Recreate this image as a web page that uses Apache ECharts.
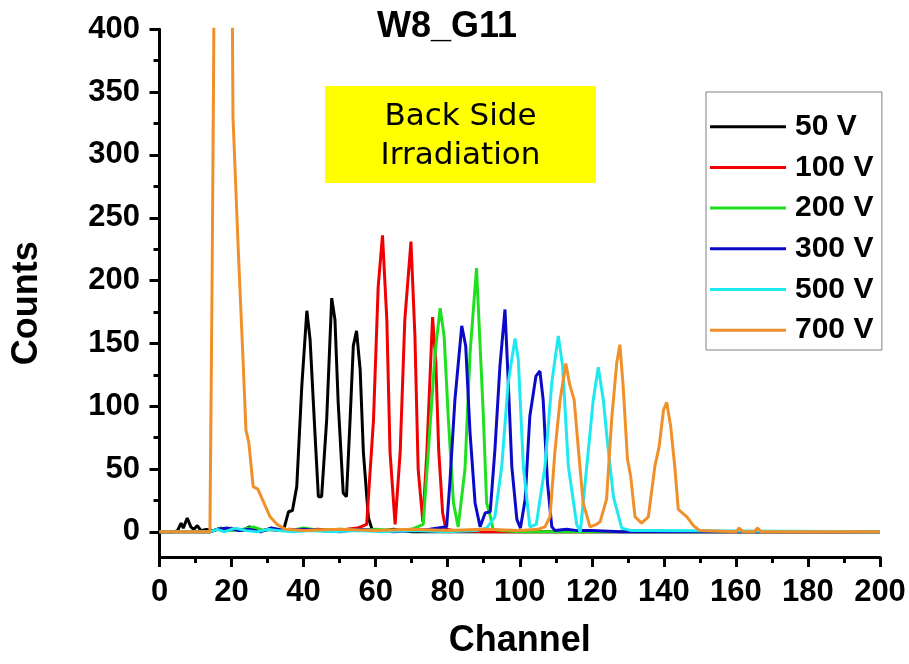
<!DOCTYPE html>
<html>
<head>
<meta charset="utf-8">
<script src="https://cdn.jsdelivr.net/npm/echarts@6/dist/echarts.min.js"></script>
<style>
html,body{margin:0;padding:0;background:#fff;}
#chart{width:909px;height:664px;}
</style>
</head>
<body>
<div id="chart"></div>
<script>
// Legend names
var seriesNames = ['50 V', '100 V', '200 V', '300 V', '500 V', '700 V'];
// 50 V
var ch50 = [0,4,5,6,6.6,7.7,8.7,9.5,10.5,11.5,13,15,17,19,21,23,25,27,29,31,33,34.5,35.8,36.9,38.1,39.5,40.9,41.8,43.2,44.1,45,46.4,47.8,48.7,49.6,51,51.9,52.9,53.8,54.7,55.7,56.6,58,59,62,65,70,80,200];
var cnt50 = [0,0,1,7,3,11,4,2,5,1,2,1,3,1,2,1,4,2,1,3,1,2,16,17,36,116,176,153,76,28,28,89,186,169,103,31,28,89,148,160,129,63,11,2,1,2,0,0,0];
// 100 V
var ch100 = [0,14,16,18,20,22,24,26,28,30,33,36,40,44,48,52,55,57.5,59.4,60.7,61.9,63.1,64,65.4,66.8,68.1,69.8,70.9,71.8,73.1,74.2,75.8,76.7,77.5,78.6,79.5,82,90,200];
var cnt100 = [0,0,2,1,3,1,2,3,1,2,1,2,1,2,1,2,3,6,89,195,236,169,63,6,63,169,231,156,50,8,63,171,135,65,15,2,1,0,0];
// 200 V
var ch200 = [0,14,17,20,23,26,29,32,36,40,45,50,55,60,65,70,73.2,74.6,76.5,77.9,79,80.2,81.6,82.9,84.8,86.2,88,89.9,90.8,91.7,92.6,95,100,200];
var cnt200 = [0,0,3,1,2,4,1,2,1,3,1,2,1,2,1,2,6,63,142,178,156,89,23,4,50,142,210,92,23,14,2,1,0,0];
// 300 V
var ch300 = [0,14,16,19,22,25,28,31,35,40,45,50,55,60,65,70,75,79.7,80.6,82,83.9,85,86.2,87.6,89,90.4,91.8,93.1,94.5,95.9,96.8,97.8,99.2,100.2,101.5,102.8,104.5,105.6,106.5,107.7,108.9,109.8,113,116,120,128,200];
var cnt300 = [0,0,2,3,1,2,0,3,1,2,1,0,2,1,0,1,2,4,39,105,164,148,79,23,4,15,16,65,132,177,120,52,10,3,26,92,124,128,105,39,4,1,2,1,1,0,0];
// 500 V
var ch500 = [0,14,16,18,21,24,27,30,33,37,42,48,55,62,70,80,88,90.8,93.1,95,96.8,98.7,99.6,101,102.8,104.6,107,108.9,110.7,111.9,113.5,115.8,116.8,118.6,120.4,121.8,123.2,124.4,126,128.3,131,135,200];
var cnt500 = [0,0,2,0,3,1,0,2,1,0,1,0,1,0,1,0,1,3,12,52,119,154,137,52,4,6,52,119,156,132,52,6,0,52,105,131,105,70,28,3,1,1,0];
// 700 V
var ch700 = [0,14,14.3,14.6,15.0,15.5,19.8,20.4,21.9,23.1,24.0,24.8,26.0,27.3,30.7,32.6,35,40,50,60,70,80,90,100,105,107,108.4,109.8,111.2,112.8,113.8,115.1,116.3,117.6,119.5,121.3,122.3,124.1,125.5,126.9,127.8,128.7,129.9,130.8,132,133.8,135.7,137.5,138.7,139.9,140.8,141.9,143.1,144,146.4,148.2,150,160,160.9,162,165,166,167,200];
var cnt700 = [0,0,0,200,360,600,600,330,222,143,81,71,36,34,12,6,2,1,2,1,2,1,2,1,2,4,12,65,105,134,118,105,65,23,4,6,8,26,89,134,149,116,58,44,12,7,12,52,68,97,103,84,50,18,12,5,1,0,3,0,0,3,0,0];
// Axis ticks
var yMajorTicks = [0,50,100,150,200,250,300,350,400];
var yMinorTicks = [25,75,125,175,225,275,325,375];

var colors = ['#000000', '#f00000', '#1ee01e', '#0a0ac8', '#1ee8f0', '#f0902a'];
var channels = [ch50, ch100, ch200, ch300, ch500, ch700];
var counts = [cnt50, cnt100, cnt200, cnt300, cnt500, cnt700];

function pairs(xs, ys) { return xs.map(function (x, i) { return [x, ys[i]]; }); }

var FONT = '"Liberation Sans", Arial, sans-serif';

var series = seriesNames.map(function (name, k) {
  return {
    name: name,
    type: 'line',
    data: pairs(channels[k], counts[k]),
    showSymbol: false,
    symbol: 'none',
    clip: true,
    lineStyle: { color: colors[k], width: 3 },
    itemStyle: { color: colors[k] },
    animation: false,
    z: 2 + k
  };
});

var chart = echarts.init(document.getElementById('chart'), null, { renderer: 'canvas' });
chart.setOption({
  animation: false,
  backgroundColor: '#ffffff',
  title: {
    text: 'W8_G11',
    left: 377,
    top: 9.5,
    padding: 0,
    textStyle: { fontFamily: FONT, fontWeight: 'bold', fontSize: 36, color: '#000' }
  },
  grid: { left: 159.5, right: 29, top: 29.3, bottom: 106.6, containLabel: false },
  legend: {
    orient: 'vertical',
    left: 706,
    top: 92,
    padding: [19.7, 8.5, 4.8, 4],
    itemWidth: 76,
    itemHeight: 3,
    itemGap: 10.7,
    icon: 'rect',
    borderColor: '#808080',
    borderWidth: 1,
    textStyle: { fontFamily: FONT, fontWeight: 'bold', fontSize: 30, color: '#000', lineHeight: 30, padding: [0, 0, 0, 4] },
    data: seriesNames
  },
  xAxis: {
    type: 'value',
    min: 0,
    max: 200,
    interval: 20,
    name: 'Channel',
    nameLocation: 'middle',
    nameGap: 66,
    nameTextStyle: { fontFamily: FONT, fontWeight: 'bold', fontSize: 36, color: '#000' },
    axisLine: { show: true, onZero: false, lineStyle: { color: '#000', width: 3 } },
    axisTick: { show: true, inside: false, length: 10, lineStyle: { color: '#000', width: 3 } },
    minorTick: { show: true, splitNumber: 2, length: 6, lineStyle: { color: '#000', width: 3 } },
    axisLabel: { margin: 19.5, fontFamily: FONT, fontWeight: 'bold', fontSize: 31, color: '#000' },
    splitLine: { show: false },
    minorSplitLine: { show: false }
  },
  yAxis: [
    {
      type: 'value',
      min: -20,
      max: 400,
      name: 'Counts',
      nameLocation: 'middle',
      nameGap: 114,
      nameRotate: 90,
      nameTextStyle: { fontFamily: FONT, fontWeight: 'bold', fontSize: 36, color: '#000', padding: [0, 20, 0, 0] },
      axisLine: { show: true, onZero: false, lineStyle: { color: '#000', width: 3 } },
      axisTick: { show: true, inside: false, length: 10, customValues: yMajorTicks, lineStyle: { color: '#000', width: 3 } },
      axisLabel: { margin: 19.5, customValues: yMajorTicks, fontFamily: FONT, fontWeight: 'bold', fontSize: 31, color: '#000' },
      splitLine: { show: false }
    },
    {
      type: 'value',
      min: -20,
      max: 400,
      position: 'left',
      axisLine: { show: false },
      axisTick: { show: true, inside: false, length: 6, customValues: yMinorTicks, lineStyle: { color: '#000', width: 3 } },
      axisLabel: { show: false },
      splitLine: { show: false }
    }
  ],
  graphic: [
    {
      type: 'rect',
      shape: { x: 325, y: 86, width: 271, height: 97 },
      style: { fill: '#ffff00' },
      z: 10
    },
    {
      type: 'text',
      x: 460.5,
      y: 136,
      style: {
        text: 'Back Side\nIrradiation',
        fill: '#000',
        font: '31px "DejaVu Sans", Verdana, sans-serif',
        lineHeight: 39,
        align: 'center',
        verticalAlign: 'middle'
      },
      z: 11
    }
  ],
  series: series
});
</script>
</body>
</html>
